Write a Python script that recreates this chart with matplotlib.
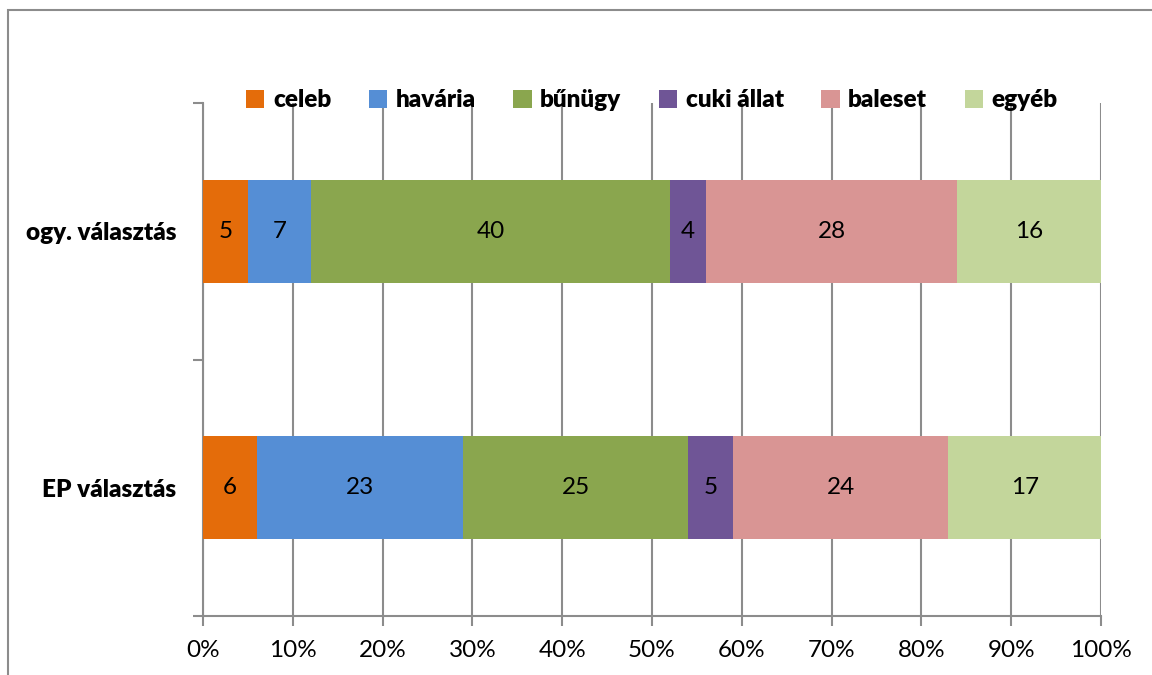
import matplotlib
matplotlib.use("Agg")
from matplotlib import pyplot as plt
from matplotlib.patches import Rectangle

categories = ["EP választás", "ogy. választás"]
series = ["celeb", "havária", "bűnügy", "cuki állat", "baleset", "egyéb"]
colors = ["#e46c0a", "#558ed5", "#8aa64e", "#6f5596", "#d99594", "#c3d69b"]

celeb = [6, 5]
havaria = [23, 7]
bunugy = [25, 40]
cuki = [5, 4]
baleset = [24, 28]
egyeb = [17, 16]
values = [celeb, havaria, bunugy, cuki, baleset, egyeb]

plt.rcParams["font.family"] = ["Lato", "DejaVu Sans"]
grey = "#8c8c8c"
fs = 17.5

fig = plt.figure(figsize=(11.52, 6.75), dpi=100)
ax = fig.add_axes([203 / 1152, 1 - 616 / 675, 898 / 1152, 513 / 675])

# frame around the chart area
fig.patches.append(Rectangle((8 / 1152, -0.1), 1.2, 1.1 - 10 / 675,
                             transform=fig.transFigure, fill=False,
                             edgecolor=grey, linewidth=1.5))

ypos = list(range(len(categories)))
left = [0] * len(categories)
for name, vals, col in zip(series, values, colors):
    bars = ax.barh(ypos, vals, left=left, height=0.4, color=col, label=name, zorder=3)
    for b, v in zip(bars, vals):
        ax.text(b.get_x() + b.get_width() / 2, b.get_y() + b.get_height() / 2,
                str(v), ha="center", va="center", fontsize=fs, zorder=4)
    left = [l + v for l, v in zip(left, vals)]

ax.set_xlim(0, 100)
ax.set_ylim(-0.5, 1.5)
ax.set_xticks(range(0, 101, 10))
ax.set_xticklabels(["{}%".format(t) for t in range(0, 101, 10)], fontsize=fs)
ax.set_yticks(ypos)
ax.set_yticklabels(categories, fontsize=fs, fontweight="heavy")
ax.set_yticks([-0.5, 0.5, 1.5], minor=True)
ax.tick_params(axis="y", which="major", length=0, pad=19)
ax.tick_params(axis="y", which="minor", length=7, color=grey, width=1.5)
ax.tick_params(axis="x", length=7, color=grey, width=1.5, pad=10)

ax.grid(axis="x", color=grey, linewidth=1.5, zorder=0)
for s in ["top", "right"]:
    ax.spines[s].set_visible(False)
for s in ["left", "bottom"]:
    ax.spines[s].set_color(grey)
    ax.spines[s].set_linewidth(1.5)

leg = ax.legend(loc="lower center", bbox_to_anchor=(0.5, 0.965), ncol=6, frameon=False,
                prop={"size": fs, "weight": "heavy"}, handlelength=0.75, handleheight=0.75,
                handletextpad=0.35, columnspacing=1.55, borderaxespad=0)

fig.savefig("out.png", dpi=100)
